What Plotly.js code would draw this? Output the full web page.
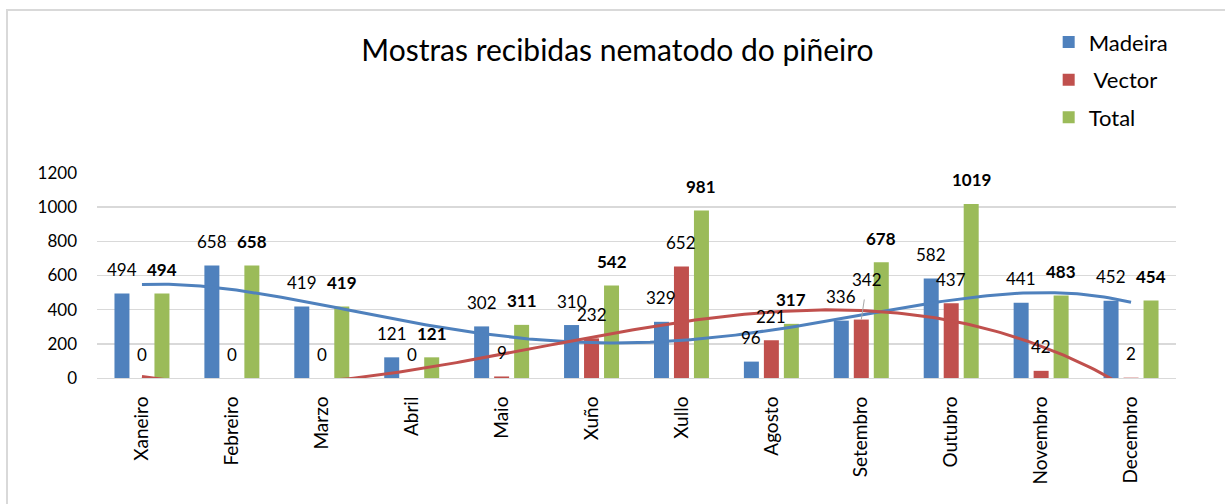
<!DOCTYPE html>
<html>
<head>
<meta charset="utf-8">
<script src="https://cdn.plot.ly/plotly-3.0.1.min.js"></script>
<style>
  html, body { margin: 0; padding: 0; background: #fff; }
  #wrap { position: relative; width: 1225px; height: 504px; overflow: hidden; }
  #chart { position: absolute; left: 0; top: 0; width: 1225px; height: 504px; }
  #frame { position: absolute; left: 6px; top: 9px; width: 1400px; height: 700px;
           border: 2px solid #D9D9D9; pointer-events: none; box-sizing: border-box; }
</style>
</head>
<body>
<div id="wrap"><div id="chart"></div><div id="frame"></div></div>
<script>
// ---- data ----
const categories = ['Xaneiro','Febreiro','Marzo','Abril','Maio','Xuño','Xullo','Agosto','Setembro','Outubro','Novembro','Decembro'];
const madeira = [494, 658, 419, 121, 302, 310, 329, 96, 336, 582, 441, 452];
const vector  = [0, 0, 0, 0, 9, 232, 652, 221, 342, 437, 42, 2];
const total   = [494, 658, 419, 121, 311, 542, 981, 317, 678, 1019, 483, 454];
const seriesNames = ['Madeira', '\u00a0Vector', 'Total'];
const yTicks = [0, 200, 400, 600, 800, 1000, 1200];

// ---- style ----
const FONT = 'Lato, "Open Sans", sans-serif';
const BLUE = '#4F81BD', RED = '#C0504D', GREEN = '#9BBB59';

// polynomial least-squares trendline (as in the original spreadsheet)
function polyfit(ys, deg) {
  const n = deg + 1;
  const A = Array.from({length: n}, () => new Array(n + 1).fill(0));
  ys.forEach((yv, i) => {
    const xv = i + 1;
    for (let r = 0; r < n; r++) {
      for (let c = 0; c < n; c++) A[r][c] += Math.pow(xv, r + c);
      A[r][n] += yv * Math.pow(xv, r);
    }
  });
  for (let p = 0; p < n; p++) {
    let m = p;
    for (let r = p + 1; r < n; r++) if (Math.abs(A[r][p]) > Math.abs(A[m][p])) m = r;
    [A[p], A[m]] = [A[m], A[p]];
    for (let r = 0; r < n; r++) {
      if (r === p) continue;
      const f = A[r][p] / A[p][p];
      for (let c = p; c <= n; c++) A[r][c] -= f * A[p][c];
    }
  }
  return A.map((row, i) => row[n] / row[i]);
}
function trendTrace(ys, deg, color) {
  const coef = polyfit(ys, deg);
  const xs = [], vs = [];
  for (let t = 0; t <= (ys.length - 1) * 20; t++) {
    const xi = t / 20;
    const xv = xi + 1;
    let v = 0;
    coef.forEach((c, k) => { v += c * Math.pow(xv, k); });
    xs.push(xi); vs.push(v);
  }
  return {type: 'scatter', mode: 'lines', x: xs, y: vs, xaxis: 'x2', yaxis: 'y',
          line: {color: color, width: 3}, showlegend: false, hoverinfo: 'skip'};
}

const barCommon = {type: 'bar', x: categories, hoverinfo: 'skip'};
const traces = [
  Object.assign({}, barCommon, {y: madeira, name: seriesNames[0], marker: {color: BLUE}, legendgroup: 'a'}),
  Object.assign({}, barCommon, {y: vector,  name: seriesNames[1], marker: {color: RED},  legendgroup: 'b'}),
  Object.assign({}, barCommon, {y: total,   name: seriesNames[2], marker: {color: GREEN}, legendgroup: 'c'}),
  trendTrace(madeira, 4, BLUE),
  trendTrace(vector, 3, RED)
];

// data labels
const annotations = [];
const labelSets = [
  {vals: madeira, dx: -20, bold: false},
  {vals: vector,  dx: 0,   bold: false},
  {vals: total,   dx: 20,  bold: true}
];
labelSets.forEach((s, si) => {
  s.vals.forEach((v, i) => {
    const ann = {
      x: categories[i], y: v, xref: 'x', yref: 'y',
      text: s.bold ? '<b>' + v + '</b>' : String(v),
      showarrow: false, xanchor: 'center', yanchor: 'middle',
      xshift: s.dx, yshift: 24,
      font: {family: FONT, size: 17, color: '#000'}
    };
    // the Setembro vector label is pulled up with a leader line in the original
    if (si === 1 && categories[i] === 'Setembro') {
      Object.assign(ann, {showarrow: true, arrowhead: 0, arrowwidth: 1, arrowcolor: '#A6A6A6',
        ax: 6, ay: -40, yshift: 0, standoff: 0, startstandoff: 8, xshift: 0});
    }
    annotations.push(ann);
  });
});

const layout = {
  width: 1225, height: 504,
  margin: {l: 97, r: 49, t: 173, b: 126},
  paper_bgcolor: 'rgba(0,0,0,0)', plot_bgcolor: 'rgba(0,0,0,0)',
  font: {family: FONT, size: 17, color: '#000'},
  title: {text: 'Mostras recibidas nematodo do piñeiro', font: {family: FONT, size: 30, color: '#000'},
          x: 0.504, xref: 'container', xanchor: 'center', y: 0.9, yref: 'container', yanchor: 'middle'},
  barmode: 'group', bargap: 0.333, bargroupgap: 0.25,
  xaxis: {type: 'category', range: [-0.5, 11.5], tickangle: -90, showgrid: false,
          showline: true, linecolor: '#D9D9D9', linewidth: 1, ticks: '', zeroline: false,
          tickfont: {family: FONT, size: 19}, ticklabelstandoff: 10, fixedrange: true},
  xaxis2: {type: 'linear', range: [-0.5, 11.5], overlaying: 'x', visible: false, fixedrange: true},
  yaxis: {range: [0, 1200], tickvals: yTicks, ticktext: yTicks.map(String), showgrid: true,
          gridcolor: '#D9D9D9', gridwidth: 1.5, zeroline: false, showline: false, ticks: '',
          tickfont: {family: FONT, size: 17}, ticklabelstandoff: 19, fixedrange: true},
  legend: {x: 0.882, xanchor: 'left', y: 1.74, yanchor: 'top', bgcolor: 'rgba(0,0,0,0)',
           font: {family: FONT, size: 22}, tracegroupgap: 6, itemclick: false},
  annotations: annotations,
  showlegend: true
};

Plotly.newPlot('chart', traces, layout, {displayModeBar: false, staticPlot: true});
</script>
</body>
</html>
